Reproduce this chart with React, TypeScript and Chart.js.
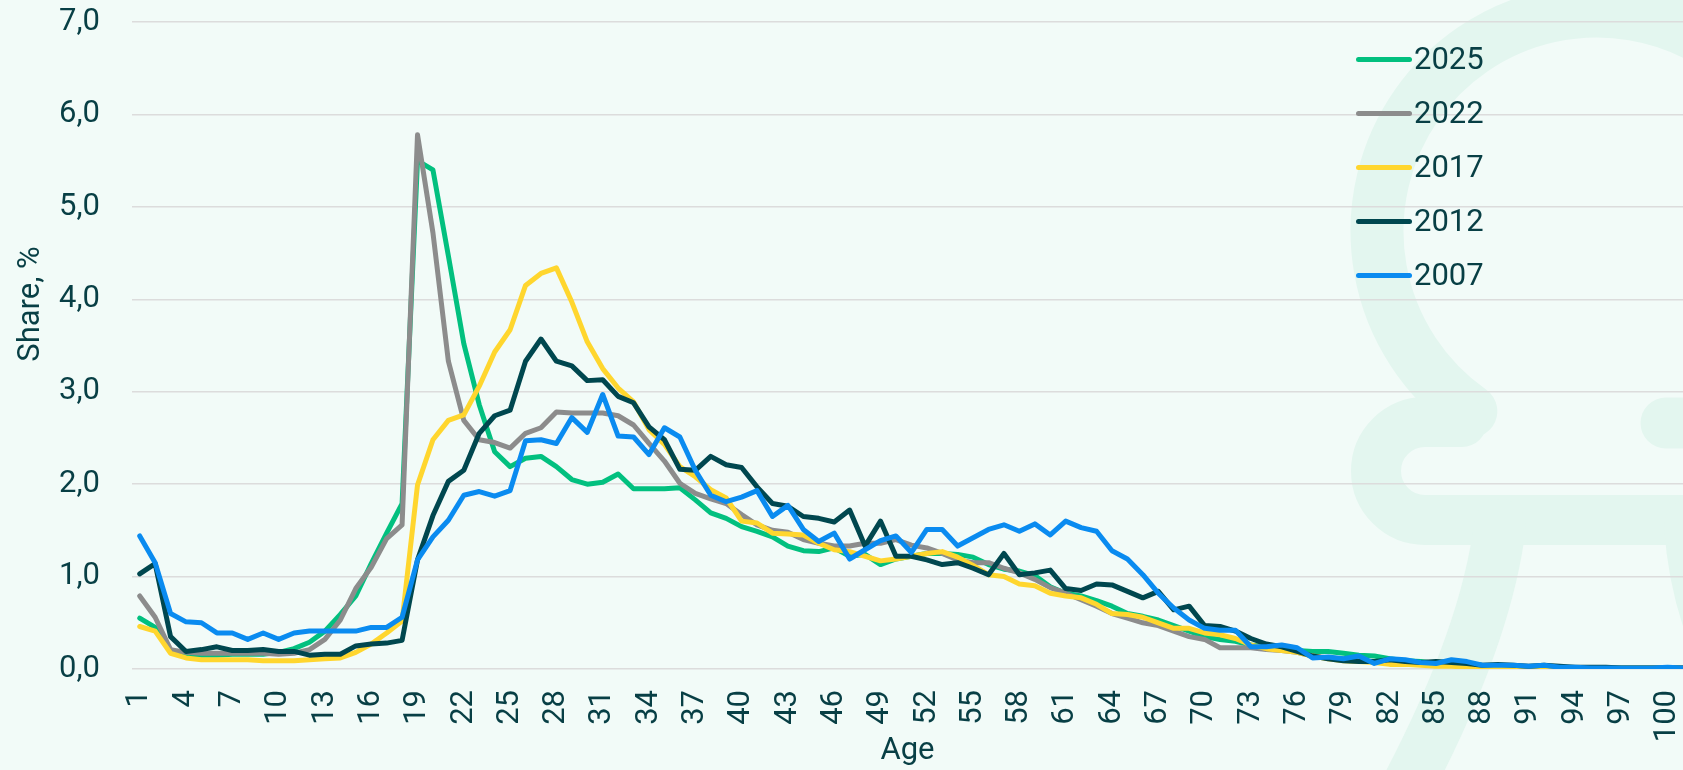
import React, { useEffect, useRef } from 'react';
import { Chart, registerables } from 'chart.js';

Chart.register(...registerables);

// ---------- data ----------
const ages: number[] = Array.from({ length: 101 }, (_, i) => i + 1);
const ageTickValues: number[] = ages.filter((a) => (a - 1) % 3 === 0);

const seriesNames: string[] = ['2025', '2022', '2017', '2012', '2007'];

const share2025: number[] = [
  0.55, 0.45, 0.19, 0.15, 0.15, 0.15, 0.16, 0.16, 0.16, 0.18,
  0.22, 0.29, 0.41, 0.59, 0.79, 1.14, 1.47, 1.79, 5.5, 5.4,
  4.47, 3.52, 2.86, 2.35, 2.19, 2.28, 2.3, 2.19, 2.05, 2.0,
  2.02, 2.11, 1.95, 1.95, 1.95, 1.96, 1.83, 1.69, 1.63, 1.54,
  1.49, 1.43, 1.33, 1.28, 1.27, 1.31, 1.22, 1.24, 1.13, 1.19,
  1.22, 1.25, 1.25, 1.24, 1.21, 1.13, 1.08, 1.06, 1.01, 0.89,
  0.82, 0.79, 0.74, 0.68, 0.6, 0.57, 0.53, 0.47, 0.41, 0.35,
  0.32, 0.3, 0.26, 0.24, 0.22, 0.2, 0.19, 0.19, 0.17, 0.15,
  0.14, 0.11, 0.09, 0.08, 0.06, 0.05, 0.03, 0.02, 0.02, 0.02,
  0.02, 0.02, 0.01, 0.01, 0.01, 0.01, 0.01, 0.01, 0.01, 0.01,
  0.01,
];

const share2022: number[] = [
  0.79, 0.56, 0.21, 0.18, 0.17, 0.17, 0.17, 0.17, 0.17, 0.16,
  0.17, 0.21, 0.32, 0.53, 0.87, 1.1, 1.41, 1.56, 5.78, 4.72,
  3.33, 2.69, 2.48, 2.45, 2.39, 2.55, 2.61, 2.78, 2.77, 2.77,
  2.77, 2.74, 2.64, 2.44, 2.25, 2.01, 1.9, 1.84, 1.79, 1.67,
  1.56, 1.5, 1.48, 1.4, 1.36, 1.33, 1.33, 1.36, 1.36, 1.4,
  1.34, 1.31, 1.25, 1.18, 1.15, 1.15, 1.09, 1.04, 0.97, 0.88,
  0.82, 0.75, 0.68, 0.6, 0.55, 0.5, 0.47, 0.41, 0.35, 0.32,
  0.23, 0.23, 0.23, 0.21, 0.2, 0.18, 0.14, 0.12, 0.11, 0.09,
  0.08, 0.07, 0.06, 0.05, 0.04, 0.04, 0.03, 0.02, 0.02, 0.02,
  0.02, 0.01, 0.01, 0.01, 0.01, 0.01, 0.01, 0.01, 0.01, 0.01,
  0.01,
];

const share2017: number[] = [
  0.46, 0.41, 0.17, 0.12, 0.1, 0.1, 0.1, 0.1, 0.09, 0.09,
  0.09, 0.1, 0.11, 0.12, 0.18, 0.27, 0.39, 0.52, 1.99, 2.48,
  2.69, 2.75, 3.06, 3.43, 3.67, 4.15, 4.28, 4.34, 3.97, 3.54,
  3.25, 3.04, 2.89, 2.59, 2.43, 2.19, 2.08, 1.94, 1.85, 1.6,
  1.58, 1.47, 1.46, 1.45, 1.36, 1.29, 1.27, 1.22, 1.17, 1.19,
  1.22, 1.25, 1.27, 1.21, 1.12, 1.02, 1.0, 0.92, 0.9, 0.82,
  0.79, 0.77, 0.7, 0.6, 0.59, 0.56, 0.5, 0.44, 0.44, 0.39,
  0.37, 0.33, 0.26, 0.22, 0.2, 0.18, 0.14, 0.11, 0.09, 0.08,
  0.07, 0.05, 0.05, 0.04, 0.03, 0.03, 0.02, 0.015, 0.01, 0.01,
  0.01, 0.01, 0.01, 0.01, 0.01, 0.01, 0.01, 0.01, 0.01, 0.01,
  0.01,
];

const share2012: number[] = [
  1.03, 1.14, 0.35, 0.19, 0.21, 0.24, 0.2, 0.2, 0.21, 0.19,
  0.19, 0.15, 0.16, 0.16, 0.25, 0.27, 0.28, 0.31, 1.18, 1.66,
  2.03, 2.15, 2.55, 2.74, 2.8, 3.33, 3.57, 3.33, 3.28, 3.12,
  3.13, 2.95, 2.88, 2.62, 2.48, 2.16, 2.15, 2.3, 2.21, 2.18,
  1.97, 1.79, 1.76, 1.65, 1.63, 1.59, 1.72, 1.33, 1.6, 1.22,
  1.22, 1.18, 1.13, 1.15, 1.09, 1.02, 1.25, 1.02, 1.04, 1.07,
  0.87, 0.85, 0.92, 0.91, 0.84, 0.77, 0.84, 0.64, 0.68, 0.47,
  0.46, 0.41, 0.33, 0.27, 0.24, 0.19, 0.14, 0.11, 0.09, 0.08,
  0.08, 0.1, 0.08, 0.07, 0.08, 0.07, 0.06, 0.04, 0.05, 0.04,
  0.03, 0.04, 0.03, 0.02, 0.02, 0.02, 0.01, 0.01, 0.01, 0.01,
  0.01,
];

const share2007: number[] = [
  1.44, 1.15, 0.6, 0.51, 0.5, 0.39, 0.39, 0.32, 0.39, 0.32,
  0.39, 0.41, 0.41, 0.41, 0.41, 0.45, 0.45, 0.56, 1.18, 1.43,
  1.61, 1.88, 1.92, 1.87, 1.93, 2.47, 2.48, 2.44, 2.72, 2.56,
  2.97, 2.52, 2.51, 2.32, 2.61, 2.51, 2.15, 1.88, 1.81, 1.86,
  1.93, 1.65, 1.77, 1.51, 1.38, 1.47, 1.19, 1.29, 1.39, 1.44,
  1.26, 1.51, 1.51, 1.33, 1.42, 1.51, 1.56, 1.49, 1.57, 1.45,
  1.6, 1.53, 1.49, 1.28, 1.19, 1.02, 0.82, 0.66, 0.53, 0.44,
  0.42, 0.42, 0.24, 0.24, 0.26, 0.23, 0.12, 0.13, 0.11, 0.14,
  0.06, 0.11, 0.1, 0.07, 0.06, 0.1, 0.08, 0.04, 0.04, 0.04,
  0.03, 0.04, 0.02, 0.02, 0.01, 0.01, 0.01, 0.01, 0.01, 0.02,
  0.01,
];

const seriesValues: number[][] = [share2025, share2022, share2017, share2012, share2007];
const seriesColors: string[] = ['#02c07f', '#8c8c8c', '#ffd62e', '#00474f', '#0a8bf0'];
const seriesOrder: number[] = [4, 3, 2, 1, 0];

const xTitle = 'Age';
const yTitle = 'Share, %';

// ---------- style ----------
const W = 1683;
const H = 770;
const BG = '#f2fbf8';
const WM = '#e3f6ef';
const TEXT = '#083f45';
const GRID = '#dcdcdc';
const FONT = 'Roboto';

const deg = (d: number) => (d * Math.PI) / 180;

const decorPlugin = {
  id: 'decor',
  beforeDraw(chart: any) {
    const ctx: CanvasRenderingContext2D = chart.ctx;
    ctx.save();
    ctx.fillStyle = BG;
    ctx.fillRect(0, 0, chart.width, chart.height);
    ctx.strokeStyle = WM;
    ctx.lineCap = 'round';
    ctx.lineJoin = 'round';
    // ring
    ctx.lineWidth = 53;
    ctx.beginPath();
    ctx.arc(1597, 231, 220, deg(125), deg(300), false);
    ctx.stroke();
    // hook
    ctx.lineWidth = 50;
    ctx.beginPath();
    ctx.moveTo(1462, 422);
    ctx.lineTo(1425, 422);
    ctx.arc(1425, 471, 49, deg(-90), deg(90), true);
    ctx.lineTo(1720, 520);
    ctx.stroke();
    // diagonal leg
    ctx.lineWidth = 52;
    ctx.beginPath();
    ctx.moveTo(1500, 525);
    ctx.quadraticCurveTo(1486, 640, 1400, 800);
    ctx.stroke();
    // right leg
    ctx.beginPath();
    ctx.moveTo(1690, 525);
    ctx.quadraticCurveTo(1695, 600, 1725, 660);
    ctx.stroke();
    // right knob
    ctx.lineWidth = 51;
    ctx.beginPath();
    ctx.moveTo(1666, 423);
    ctx.lineTo(1730, 423);
    ctx.stroke();
    ctx.restore();
  },
  afterDraw(chart: any) {
    const ctx: CanvasRenderingContext2D = chart.ctx;
    ctx.save();
    ctx.translate(39, 304);
    ctx.rotate(-Math.PI / 2);
    ctx.font = `31px ${FONT}`;
    ctx.fillStyle = TEXT;
    ctx.textAlign = 'center';
    ctx.textBaseline = 'alphabetic';
    ctx.fillText(yTitle, 0, 0);
    ctx.restore();
  },
};

export default function App() {
  const canvasRef = useRef<HTMLCanvasElement>(null);

  useEffect(() => {
    document.body.style.margin = '0';
    document.body.style.background = BG;
    const canvas = canvasRef.current;
    if (!canvas) return;

    const datasets = seriesNames.map((name, i) => ({
      label: name,
      data: ages.map((a, j) => ({ x: a, y: seriesValues[i][j] })),
      borderColor: seriesColors[i],
      backgroundColor: seriesColors[i],
      borderWidth: 5,
      pointRadius: 0,
      tension: 0,
      borderJoinStyle: 'round' as const,
      borderCapStyle: 'round' as const,
      order: seriesOrder[i],
    }));

    const tickFont = { family: FONT, size: 31 };

    const chart = new Chart(canvas, {
      type: 'line',
      data: { datasets },
      options: {
        responsive: false,
        animation: false,
        events: [],
        layout: { padding: { top: 22, left: 0, right: 0, bottom: 0 } },
        plugins: {
          legend: { display: false },
          tooltip: { enabled: false },
        },
        scales: {
          x: {
            type: 'linear',
            min: 0.5,
            max: 101,
            afterBuildTicks: (s: any) => {
              s.ticks = ageTickValues.map((v) => ({ value: v }));
            },
            afterFit: (s: any) => {
              s.height = H - 669;
              s.paddingLeft = 0;
              s.paddingRight = 0;
            },
            grid: { display: false, drawTicks: false },
            border: { display: false },
            ticks: {
              autoSkip: false,
              minRotation: 90,
              maxRotation: 90,
              padding: 21,
              color: TEXT,
              font: tickFont,
              callback: (v: any) => String(v),
            },
            title: {
              display: true,
              text: xTitle,
              color: TEXT,
              font: { family: FONT, size: 31 },
              padding: 0,
            },
          },
          y: {
            min: 0,
            max: 7,
            afterFit: (s: any) => {
              s.width = 132;
              s.paddingTop = 0;
              s.paddingBottom = 0;
            },
            grid: { color: GRID, lineWidth: 1.5, drawTicks: false },
            border: { display: false },
            ticks: {
              stepSize: 1,
              padding: 32,
              color: TEXT,
              font: tickFont,
              callback: (v: any) => Number(v).toFixed(1).replace('.', ','),
            },
          },
        },
      },
      plugins: [decorPlugin],
    } as any);

    return () => chart.destroy();
  }, []);

  return (
    <div style={{ position: 'relative', width: W, height: H, background: BG, overflow: 'hidden' }}>
      <canvas ref={canvasRef} width={W} height={H} style={{ display: 'block', width: W, height: H }} />
      <div
        style={{
          position: 'absolute',
          left: 1356,
          top: 32,
          fontFamily: FONT,
          fontSize: 31,
          color: TEXT,
          pointerEvents: 'none',
        }}
      >
        {seriesNames.map((name, i) => (
          <div key={name} style={{ display: 'flex', alignItems: 'center', height: 54 }}>
            <span
              style={{
                display: 'inline-block',
                width: 56,
                height: 5,
                borderRadius: 3,
                background: seriesColors[i],
                marginRight: 2,
              }}
            />
            <span style={{ lineHeight: '54px' }}>{name}</span>
          </div>
        ))}
      </div>
    </div>
  );
}
